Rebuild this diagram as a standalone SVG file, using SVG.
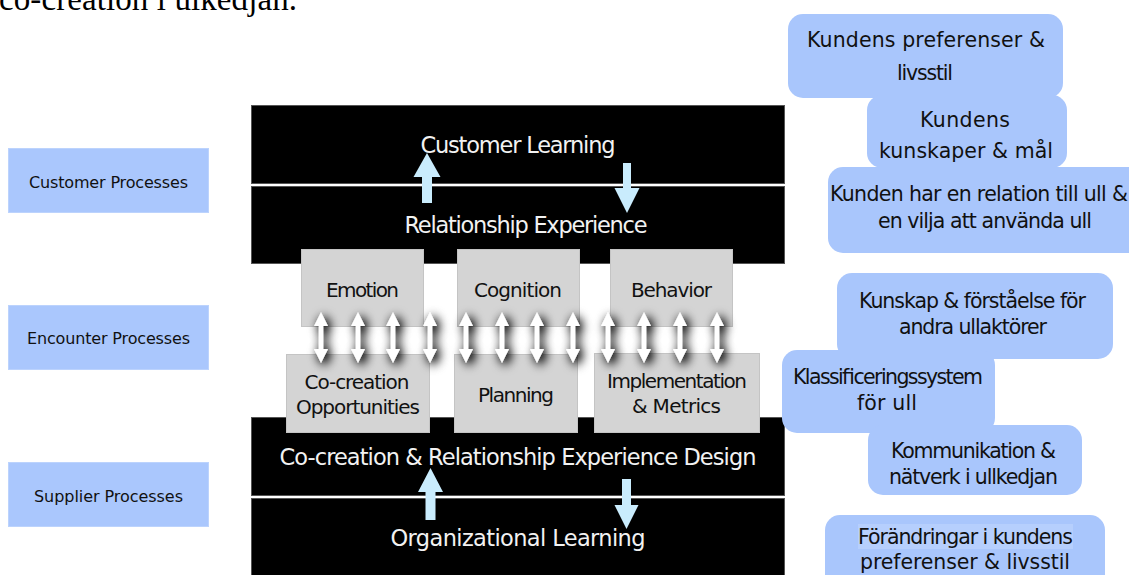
<svg xmlns="http://www.w3.org/2000/svg" width="1129" height="575" viewBox="0 0 1129 575">
  <defs>
    <style>
      text { font-family: "DejaVu Sans", "Noto Sans", sans-serif; }
      .band { fill: #000; stroke: #555; stroke-width: 1; }
      .band-label { fill: #f2f2f2; font-size: 22.5px; text-anchor: middle; }
      .cell { fill: #d4d4d4; stroke: #c4c4c4; stroke-width: 1; }
      .cell-label { fill: #111; font-size: 20px; text-anchor: middle; }
      .side { fill: #aac7fd; stroke: #bcd3fd; stroke-width: 1; }
      .side-label { fill: #111; font-size: 16px; text-anchor: middle; }
      .note { fill: #a9c6fc; }
      .note-label { fill: #111; font-size: 20.5px; text-anchor: middle; }
      .flow { fill: #c9ecfd; }
      .link { fill: #fff; filter: url(#haze); }
      .caption { font-family: "Liberation Serif", "Times New Roman", serif; font-size: 33px; fill: #000; }
    </style>
    <filter id="haze" x="-300%" y="-50%" width="700%" height="200%">
      <feGaussianBlur in="SourceAlpha" stdDeviation="5.5" result="b"/>
      <feOffset in="b" dx="3" dy="3" result="o"/>
      <feComponentTransfer in="o" result="s">
        <feFuncA type="linear" slope="1.5"/>
      </feComponentTransfer>
      <feMerge>
        <feMergeNode in="s"/>
        <feMergeNode in="SourceGraphic"/>
      </feMerge>
    </filter>
    <!-- two-headed link between an upper and a lower cell -->
    <path id="dbl" d="M0,0 L7,14 L2.2,14 L2.2,37 L7,37 L0,51 L-7,37 L-2.2,37 L-2.2,14 L-7,14 Z"/>
  </defs>

  <rect width="1129" height="575" fill="#fff"/>

  <!-- caption line from the page above, cut at the top edge -->
  <text class="caption" x="-1" y="10" textLength="298">co-creation i ulkedjan.</text>

  <!-- process labels on the left -->
  <g id="customer-processes">
    <rect class="side" x="8.5" y="148.5" width="200" height="64"/>
    <text class="side-label" x="108.5" y="188" textLength="159">Customer Processes</text>
  </g>
  <g id="encounter-processes">
    <rect class="side" x="8.5" y="305.5" width="200" height="64"/>
    <text class="side-label" x="108.5" y="344" textLength="163">Encounter Processes</text>
  </g>
  <g id="supplier-processes">
    <rect class="side" x="8.5" y="462.5" width="200" height="64"/>
    <text class="side-label" x="108.5" y="502" textLength="149">Supplier Processes</text>
  </g>

  <!-- black bands -->
  <g id="customer-learning">
    <rect class="band" x="251.5" y="105.5" width="533" height="78"/>
    <text class="band-label" x="518" y="153" textLength="195">Customer Learning</text>
  </g>
  <g id="relationship-experience">
    <rect class="band" x="251.5" y="186.5" width="533" height="77"/>
    <text class="band-label" x="526" y="233" textLength="243">Relationship Experience</text>
  </g>
  <g id="co-creation-design">
    <rect class="band" x="251.5" y="417.5" width="533" height="78"/>
    <text class="band-label" x="518" y="465" textLength="477">Co-creation &amp; Relationship Experience Design</text>
  </g>
  <g id="organizational-learning">
    <rect class="band" x="251.5" y="498.5" width="533" height="80"/>
    <text class="band-label" x="518" y="546" textLength="255">Organizational Learning</text>
  </g>

  <!-- grey cells -->
  <g id="emotion">
    <rect class="cell" x="301.5" y="249.5" width="122" height="77"/>
    <text class="cell-label" x="362.5" y="297" textLength="73">Emotion</text>
  </g>
  <g id="cognition">
    <rect class="cell" x="457.5" y="249.5" width="122" height="77"/>
    <text class="cell-label" x="518" y="297" textLength="88">Cognition</text>
  </g>
  <g id="behavior">
    <rect class="cell" x="610.5" y="249.5" width="122" height="77"/>
    <text class="cell-label" x="671.5" y="297" textLength="81">Behavior</text>
  </g>
  <g id="co-creation-opportunities">
    <rect class="cell" x="286.5" y="354.5" width="143" height="78"/>
    <text class="cell-label" x="357" y="389" textLength="105">Co-creation</text>
    <text class="cell-label" x="358" y="414" textLength="124">Opportunities</text>
  </g>
  <g id="planning">
    <rect class="cell" x="454.5" y="354.5" width="123" height="78"/>
    <text class="cell-label" x="516" y="402" textLength="76">Planning</text>
  </g>
  <g id="implementation-metrics">
    <rect class="cell" x="594.5" y="353.5" width="165" height="79"/>
    <text class="cell-label" x="677" y="388" textLength="140">Implementation</text>
    <text class="cell-label" x="676.5" y="413" textLength="89">&amp; Metrics</text>
  </g>

  <!-- connectors -->
  <g id="connectors">
    <!-- learning loops between the bands -->
    <path class="flow" d="M427,153 L440.5,177 L432,177 L432,203 L422,203 L422,177 L413.5,177 Z"/>
    <path class="flow" d="M623,163 L631,163 L631,188 L639.5,188 L627,213 L614.5,188 L623,188 Z"/>
    <path class="flow" d="M430.5,468 L443,492 L435.5,492 L435.5,520 L425.5,520 L425.5,492 L418,492 Z"/>
    <path class="flow" d="M622,479 L631,479 L631,505 L638.5,505 L626.5,529 L614.5,505 L622,505 Z"/>
    <!-- links between the upper and lower cells -->
    <g class="link">
      <use href="#dbl" x="321" y="312"/>
      <use href="#dbl" x="358" y="312"/>
      <use href="#dbl" x="393" y="312"/>
      <use href="#dbl" x="430" y="312"/>
      <use href="#dbl" x="466" y="312"/>
      <use href="#dbl" x="502" y="312"/>
      <use href="#dbl" x="537" y="312"/>
      <use href="#dbl" x="573" y="312"/>
      <use href="#dbl" x="608" y="312"/>
      <use href="#dbl" x="644" y="312"/>
      <use href="#dbl" x="680" y="312"/>
      <use href="#dbl" x="717" y="312"/>
    </g>
  </g>

  <!-- notes on the right -->
  <g id="note-preferenser">
    <rect class="note" x="788" y="14" width="275" height="84" rx="15"/>
    <text class="note-label" x="926" y="47" textLength="238">Kundens preferenser &amp;</text>
    <text class="note-label" x="925" y="80" textLength="56">livsstil</text>
  </g>
  <g id="note-kunskaper">
    <rect class="note" x="867" y="95" width="200" height="73" rx="15"/>
    <text class="note-label" x="965" y="127" textLength="90">Kundens</text>
    <text class="note-label" x="966" y="158" textLength="174">kunskaper &amp; mål</text>
  </g>
  <g id="note-relation">
    <rect class="note" x="828" y="167" width="320" height="86" rx="15"/>
    <text class="note-label" x="979" y="201" textLength="298">Kunden har en relation till ull &amp;</text>
    <text class="note-label" x="985" y="228" textLength="214">en vilja att använda ull</text>
  </g>
  <g id="note-ullaktorer">
    <rect class="note" x="837" y="273" width="276" height="86" rx="15"/>
    <text class="note-label" x="972.5" y="308" textLength="227">Kunskap &amp; förståelse för</text>
    <text class="note-label" x="973" y="334" textLength="148">andra ullaktörer</text>
  </g>
  <g id="note-klassificering">
    <rect class="note" x="782" y="350" width="213" height="83" rx="15"/>
    <text class="note-label" x="888" y="384" textLength="190">Klassificeringssystem</text>
    <text class="note-label" x="887" y="410" textLength="60">för ull</text>
  </g>
  <g id="note-kommunikation">
    <rect class="note" x="868" y="425" width="214" height="70" rx="15"/>
    <text class="note-label" x="973.5" y="458" textLength="165">Kommunikation &amp;</text>
    <text class="note-label" x="973.5" y="484" textLength="169">nätverk i ullkedjan</text>
  </g>
  <g id="note-forandringar">
    <rect class="note" x="825" y="515" width="280" height="80" rx="15"/>
    <rect x="858" y="524" width="215" height="25" fill="#b6cffd"/>
    <text class="note-label" x="965.5" y="544" textLength="215">Förändringar i kundens</text>
    <text class="note-label" x="965" y="569" textLength="210">preferenser &amp; livsstil</text>
  </g>
</svg>
